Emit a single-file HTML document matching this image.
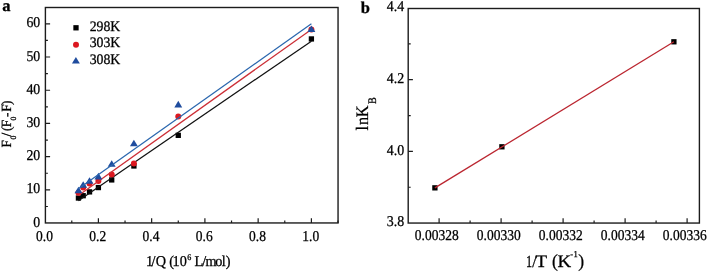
<!DOCTYPE html><html><head><meta charset="utf-8"><style>html,body{margin:0;padding:0;background:#fff;}svg{display:block;will-change:transform}text{font-family:"Liberation Serif",serif;text-rendering:geometricPrecision;stroke:#000;stroke-width:0.28px}</style></head><body>
<svg width="708" height="272" viewBox="0 0 708 272">
<rect width="708" height="272" fill="#fff"/>
<text transform="translate(2.33,10.70) scale(1,1)" font-size="16.5" font-weight="bold">a</text>
<text transform="translate(360.79,12.70) scale(1,1)" font-size="16.5" font-weight="bold">b</text>
<rect x="45.4" y="7.5" width="292.65" height="215.45" fill="none" stroke="#1c1c1c" stroke-width="1.4"/>
<path d="M71.78 222.95V220.45 M98.40 222.95V218.25 M125.03 222.95V220.45 M151.65 222.95V218.25 M178.28 222.95V220.45 M204.90 222.95V218.25 M231.53 222.95V220.45 M258.15 222.95V218.25 M284.77 222.95V220.45 M311.40 222.95V218.25 M338.02 222.95V220.45 M45.4 206.49H47.90 M45.4 189.88H50.10 M45.4 173.27H47.90 M45.4 156.67H50.10 M45.4 140.06H47.90 M45.4 123.45H50.10 M45.4 106.84H47.90 M45.4 90.23H50.10 M45.4 73.62H47.90 M45.4 57.02H50.10 M45.4 40.41H47.90 M45.4 23.80H50.10" stroke="#1c1c1c" stroke-width="1.2" fill="none"/>
<text transform="translate(40.20,226.70) scale(0.92,1)" font-size="15" text-anchor="end">0</text>
<text transform="translate(40.20,193.48) scale(0.92,1)" font-size="15" text-anchor="end">10</text>
<text transform="translate(40.20,160.27) scale(0.92,1)" font-size="15" text-anchor="end">20</text>
<text transform="translate(40.20,127.05) scale(0.92,1)" font-size="15" text-anchor="end">30</text>
<text transform="translate(40.20,93.83) scale(0.92,1)" font-size="15" text-anchor="end">40</text>
<text transform="translate(40.20,60.62) scale(0.92,1)" font-size="15" text-anchor="end">50</text>
<text transform="translate(40.20,27.40) scale(0.92,1)" font-size="15" text-anchor="end">60</text>
<text transform="translate(44.45,240.50) scale(0.9,1)" font-size="15" text-anchor="middle">0.0</text>
<text transform="translate(97.70,240.50) scale(0.9,1)" font-size="15" text-anchor="middle">0.2</text>
<text transform="translate(150.95,240.50) scale(0.9,1)" font-size="15" text-anchor="middle">0.4</text>
<text transform="translate(204.20,240.50) scale(0.9,1)" font-size="15" text-anchor="middle">0.6</text>
<text transform="translate(257.45,240.50) scale(0.9,1)" font-size="15" text-anchor="middle">0.8</text>
<text transform="translate(310.70,240.50) scale(0.9,1)" font-size="15" text-anchor="middle">1.0</text>
<text transform="translate(146.09,266.20) scale(0.95,1)" font-size="15">1</text>
<text transform="translate(151.52,266.20) scale(0.95,1)" font-size="15">/</text>
<text transform="translate(155.83,266.20) scale(0.95,1)" font-size="15">Q</text>
<text transform="translate(169.14,266.20) scale(0.95,1)" font-size="15">(</text>
<text transform="translate(172.39,266.20) scale(0.95,1)" font-size="15">1</text>
<text transform="translate(179.64,266.20) scale(0.95,1)" font-size="15">0</text>
<text transform="translate(187.23,259.60) scale(0.95,1)" font-size="8.5">6</text>
<text transform="translate(194.57,266.20) scale(0.95,1)" font-size="15">L</text>
<text transform="translate(202.22,266.20) scale(0.95,1)" font-size="15">/</text>
<text transform="translate(205.42,266.20) scale(0.95,1)" font-size="15">m</text>
<text transform="translate(215.14,266.20) scale(0.95,1)" font-size="15">o</text>
<text transform="translate(221.82,266.20) scale(0.95,1)" font-size="15">l</text>
<text transform="translate(225.81,266.20) scale(0.95,1)" font-size="15">)</text>
<g transform="translate(11.0,147.2) rotate(-90)"><text transform="translate(-0.25,0.00) scale(0.95,1)" font-size="14">F</text><text transform="translate(7.60,5.00) scale(0.95,1)" font-size="8">0</text><text transform="translate(10.65,0.00) scale(0.95,1)" font-size="14">/</text><text transform="translate(16.31,0.00) scale(0.95,1)" font-size="14">(</text><text transform="translate(20.00,0.00) scale(0.95,1)" font-size="14">F</text><text transform="translate(26.60,5.00) scale(0.95,1)" font-size="8">0</text><text transform="translate(30.28,0.00) scale(0.95,1)" font-size="14">-</text><text transform="translate(35.50,0.00) scale(0.95,1)" font-size="14">F</text><text transform="translate(42.16,0.00) scale(0.95,1)" font-size="14">)</text></g>
<rect x="75.78" y="195.37" width="5.3" height="5.3" fill="#000"/>
<rect x="80.54" y="193.05" width="5.3" height="5.3" fill="#000"/>
<rect x="86.88" y="189.23" width="5.3" height="5.3" fill="#000"/>
<rect x="95.75" y="184.91" width="5.3" height="5.3" fill="#000"/>
<rect x="109.06" y="177.27" width="5.3" height="5.3" fill="#000"/>
<rect x="131.25" y="163.32" width="5.3" height="5.3" fill="#000"/>
<rect x="175.62" y="132.69" width="5.3" height="5.3" fill="#000"/>
<rect x="308.75" y="36.29" width="5.3" height="5.3" fill="#000"/>
<line x1="78.43" y1="200.65" x2="311.40" y2="41.19" stroke="#111" stroke-width="1.25"/>
<circle cx="78.43" cy="192.71" r="3.0" fill="#dc1820"/>
<circle cx="83.19" cy="187.56" r="3.0" fill="#dc1820"/>
<circle cx="89.53" cy="183.57" r="3.0" fill="#dc1820"/>
<circle cx="98.40" cy="180.91" r="3.0" fill="#dc1820"/>
<circle cx="111.71" cy="174.60" r="3.0" fill="#dc1820"/>
<circle cx="133.90" cy="163.48" r="3.0" fill="#dc1820"/>
<circle cx="178.28" cy="116.47" r="3.0" fill="#dc1820"/>
<circle cx="311.40" cy="29.44" r="3.0" fill="#dc1820"/>
<line x1="78.43" y1="195.43" x2="311.40" y2="29.41" stroke="#cc2e36" stroke-width="1.25"/>
<path d="M78.43 186.65L82.38 193.25L74.48 193.25Z" fill="#1f4c9e"/>
<path d="M83.19 181.16L87.14 187.76L79.24 187.76Z" fill="#1f4c9e"/>
<path d="M89.53 177.18L93.48 183.78L85.58 183.78Z" fill="#1f4c9e"/>
<path d="M98.40 172.86L102.35 179.46L94.45 179.46Z" fill="#1f4c9e"/>
<path d="M111.71 160.24L115.66 166.84L107.76 166.84Z" fill="#1f4c9e"/>
<path d="M133.90 139.64L137.85 146.24L129.95 146.24Z" fill="#1f4c9e"/>
<path d="M178.28 100.78L182.22 107.38L174.33 107.38Z" fill="#1f4c9e"/>
<path d="M311.40 25.38L315.35 31.98L307.45 31.98Z" fill="#1f4c9e"/>
<line x1="78.43" y1="188.80" x2="311.40" y2="23.76" stroke="#2a66ae" stroke-width="1.25"/>
<rect x="73.35" y="25.15" width="5.3" height="5.3" fill="#000"/>
<circle cx="76.00" cy="44.70" r="3.0" fill="#dc1820"/>
<path d="M75.90 56.90L79.85 63.50L71.95 63.50Z" fill="#1f4c9e"/>
<text transform="translate(89.70,30.60) scale(0.95,1)" font-size="14.5">298K</text>
<text transform="translate(89.70,47.35) scale(0.95,1)" font-size="14.5">303K</text>
<text transform="translate(89.70,64.10) scale(0.95,1)" font-size="14.5">308K</text>
<rect x="408.2" y="8.5" width="291.20" height="214.55" fill="none" stroke="#1c1c1c" stroke-width="1.4"/>
<path d="M439.10 223.05V218.35 M470.10 223.05V220.55 M501.10 223.05V218.35 M532.10 223.05V220.55 M563.10 223.05V218.35 M594.10 223.05V220.55 M625.10 223.05V218.35 M656.10 223.05V220.55 M687.10 223.05V218.35 M408.2 187.25H410.70 M408.2 151.40H412.90 M408.2 115.55H410.70 M408.2 79.70H412.90 M408.2 43.85H410.70" stroke="#1c1c1c" stroke-width="1.2" fill="none"/>
<text transform="translate(404.10,226.30) scale(0.93,1)" font-size="15" text-anchor="end">3.8</text>
<text transform="translate(404.10,154.60) scale(0.93,1)" font-size="15" text-anchor="end">4.0</text>
<text transform="translate(404.10,82.90) scale(0.93,1)" font-size="15" text-anchor="end">4.2</text>
<text transform="translate(404.10,11.20) scale(0.93,1)" font-size="15" text-anchor="end">4.4</text>
<text transform="translate(436.80,239.60) scale(0.9,1)" font-size="15" text-anchor="middle">0.00328</text>
<text transform="translate(498.80,239.60) scale(0.9,1)" font-size="15" text-anchor="middle">0.00330</text>
<text transform="translate(560.80,239.60) scale(0.9,1)" font-size="15" text-anchor="middle">0.00332</text>
<text transform="translate(622.80,239.60) scale(0.9,1)" font-size="15" text-anchor="middle">0.00334</text>
<text transform="translate(684.80,239.60) scale(0.9,1)" font-size="15" text-anchor="middle">0.00336</text>
<text transform="translate(525.97,266.60) scale(0.72,1)" font-size="17">1</text>
<text transform="translate(535.61,266.60) scale(1.08,1)" font-size="17.5">T</text>
<text transform="translate(557.40,266.60) scale(1.08,1)" font-size="17.5">K</text>
<text transform="translate(532.26,266.60) scale(0.95,1)" font-size="17">/</text>
<text transform="translate(551.97,266.60) scale(0.95,1)" font-size="18.5">(</text>
<text transform="translate(570.27,257.30) scale(0.95,1)" font-size="9">-</text>
<text transform="translate(573.59,257.30) scale(0.95,1)" font-size="9">1</text>
<text transform="translate(578.13,266.60) scale(0.95,1)" font-size="18.5">)</text>
<g transform="translate(368.3,133.6) rotate(-90)"><text transform="translate(3.19,0.00) scale(0.93,1)" font-size="17.5">l</text><text transform="translate(8.52,0.00) scale(0.93,1)" font-size="17.5">n</text><text transform="translate(16.37,0.00) scale(0.93,1)" font-size="17.5">K</text><text transform="translate(29.63,7.60) scale(0.88,1)" font-size="11.5">B</text></g>
<rect x="432.25" y="185.20" width="5.3" height="5.3" fill="#000"/>
<rect x="499.25" y="144.15" width="5.3" height="5.3" fill="#000"/>
<rect x="671.25" y="39.15" width="5.3" height="5.3" fill="#000"/>
<line x1="434.9" y1="187.85" x2="673.9" y2="41.8" stroke="#bb2630" stroke-width="1.3"/>
</svg></body></html>
